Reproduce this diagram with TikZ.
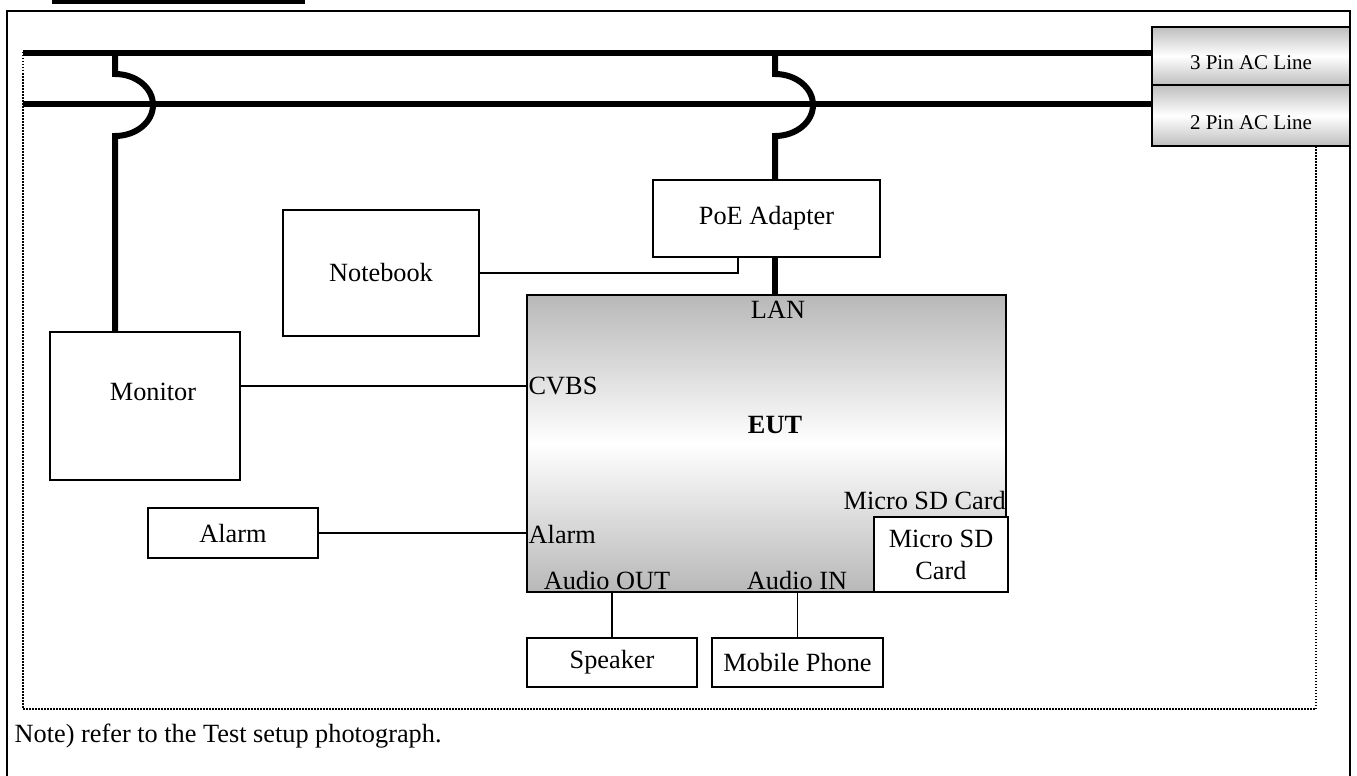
\documentclass[tikz,border=0pt]{standalone}
\usepackage{fontspec}
\setmainfont{Liberation Serif}
\definecolor{shadegray}{RGB}{184,184,184}
\definecolor{acgray}{RGB}{190,190,190}
\begin{document}
\begin{tikzpicture}[x=1pt,y=-1pt,
  box/.style={draw, line width=1.8pt, fill=white, inner sep=0pt, align=center,
    font=\fontsize{26.3}{31}\selectfont},
  acbox/.style={draw, line width=1.8pt, inner sep=0pt, top color=acgray, bottom color=acgray, middle color=white},
  actext/.style={inner sep=0pt, font=\fontsize{21}{24}\selectfont},
  port/.style={inner sep=1.5pt, font=\fontsize{26.3}{31}\selectfont},
  thinline/.style={line width=1.4pt},
  powerline/.style={line width=6pt},
  frameline/.style={line width=2.5pt},
  dotline/.style={line width=1.5pt, dash pattern=on 1.5pt off 1.5pt}
]
\clip (0,0) rectangle (1357,776);
% title underline fragment and outer frame
\draw[line width=3.5pt] (52,2) -- (305,2);
\draw[frameline] (7,800) -- (7,11) -- (1350,11) -- (1350,800);
% dotted test area
\draw[dotline] (23,52) rectangle (1316,709);
% AC line boxes
\node[acbox, minimum width=198pt, minimum height=58pt] (ac3) at (1251,56) {};
\node[acbox, minimum width=198pt, minimum height=61pt] (ac2) at (1251,115.5) {};
\node[actext] (ac3t) at (1251,63) {3 Pin AC Line};
\node[actext] (ac2t) at (1251,123) {2 Pin AC Line};
% AC lines
\coordinate (l3) at (23,53);
\coordinate (l2) at (23,104);
\draw[powerline] (l3) -- (l3 -| ac3.west);
\draw[powerline] (l2) -- (l2 -| ac2.west);
% devices
\node[box, minimum width=227pt, minimum height=77pt] (poe) at (766.5,218.5) {PoE Adapter};
\node[box, minimum width=196pt, minimum height=126pt] (nb) at (381,273) {Notebook};
\node[box, minimum width=190pt, minimum height=148pt] (mon) at (145,406) {};
\node[port] (montxt) at (153,392) {Monitor};
\node[draw, line width=2.2pt, inner sep=0pt, minimum width=479pt, minimum height=297pt,
  top color=shadegray, bottom color=shadegray, middle color=white] (eut) at (766.5,443.5) {};
\node[port, font=\fontsize{26.3}{31}\selectfont\bfseries] (euttxt) at (775,425) {EUT};
\node[port] (lan) at (778,310) {LAN};
\node[port, anchor=west] (cvbs) at (527,386) {CVBS};
\node[port, anchor=west] (alarmport) at (527,534) {Alarm};
\node[port] (aout) at (607,580) {Audio OUT};
\node[port] (ain) at (797,580) {Audio IN};
\node[box, minimum width=134pt, minimum height=75pt] (sd) at (941,554.5) {Micro SD\\[1pt]Card};
\node[port, anchor=east, inner sep=1pt] (sdlabel) at (1007,500) {Micro SD Card};
\node[box, minimum width=170pt, minimum height=50pt] (alarm) at (233,533) {Alarm};
\node[box, minimum width=170pt, minimum height=49pt] (spk) at (612,662.5) {Speaker};
\node[box, minimum width=171pt, minimum height=49pt] (mob) at (797.5,662.5) {Mobile Phone};
% power hops
\coordinate (m3) at (115,53);
\coordinate (p3) at (775,53);
\draw[powerline, line join=miter] (m3) -- ++(0,21) arc[start angle=90, end angle=-90, x radius=38pt, y radius=31pt] -- (mon.north -| m3);
\draw[powerline, line join=miter] (p3) -- ++(0,21) arc[start angle=90, end angle=-90, x radius=38pt, y radius=31pt] -- (poe.north -| p3);
\draw[powerline] (poe.south -| p3) -- (eut.north -| p3);
% signal connectors
\coordinate (nbk) at (738,257);
\draw[thinline] (nb.east) -| (nbk);
\draw[thinline] (cvbs.west) -- (cvbs.west -| mon.east);
\draw[thinline] (alarm.east) -- (alarm.east -| alarmport.west);
\draw[thinline] (spk.north) -- (spk.north |- eut.south);
\draw[thinline] (mob.north) -- (mob.north |- eut.south);
% note
\node[port, anchor=west] (note) at (13,736) {Note) refer to the Test setup photograph.};
\end{tikzpicture}
\end{document}
